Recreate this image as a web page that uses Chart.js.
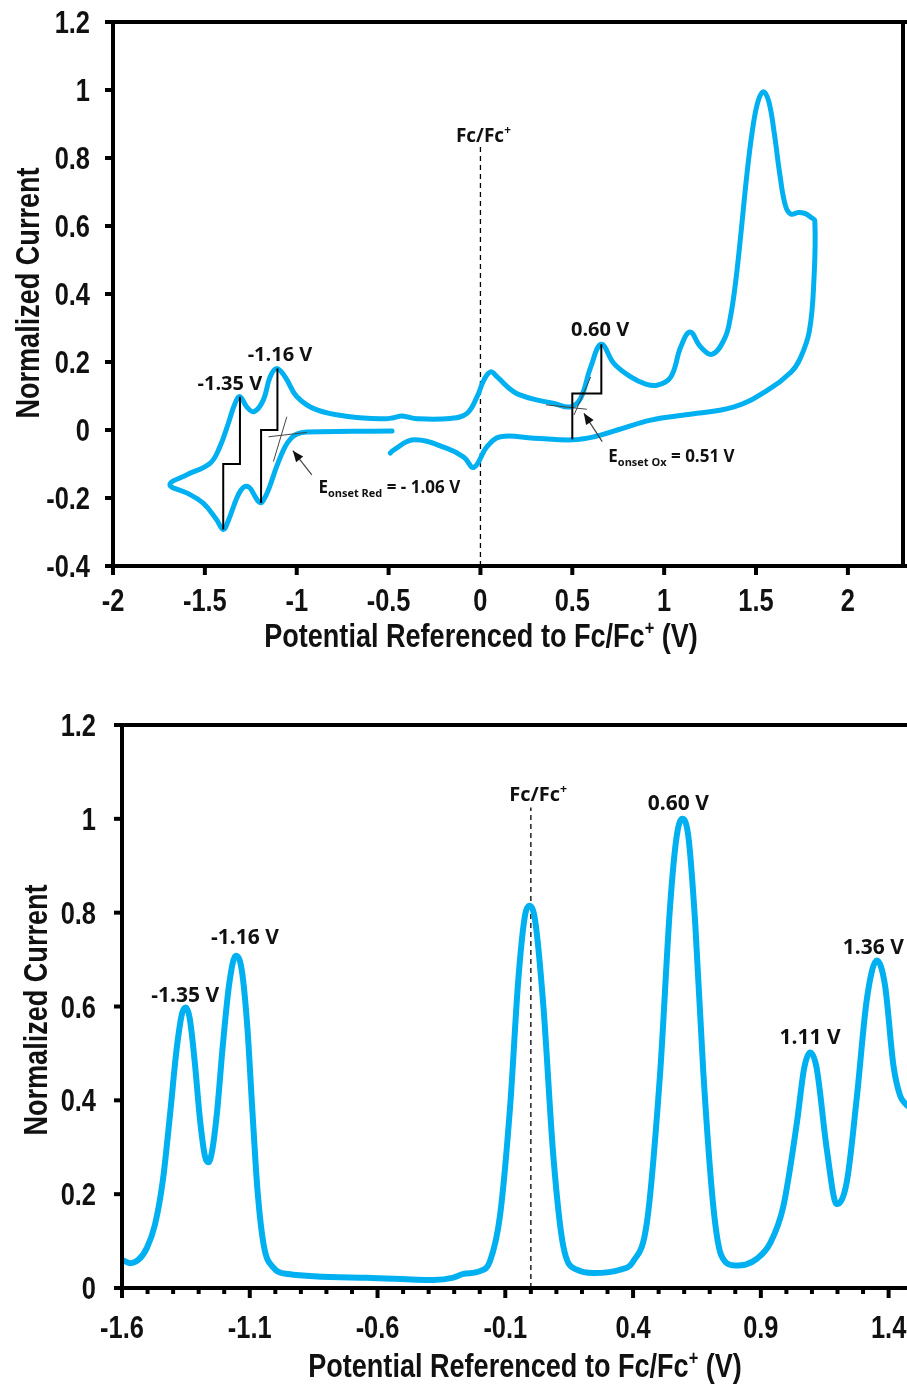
<!DOCTYPE html>
<html>
<head>
<meta charset="utf-8">
<script src="https://cdn.jsdelivr.net/npm/chart.js@4.4.1/dist/chart.umd.min.js"></script>
<style>
  html, body { margin: 0; padding: 0; background: #fff; overflow: hidden; }
  #box1 { position: absolute; left: 0; top: 0; width: 907px; height: 660px; }
  #box2 { position: absolute; left: 0; top: 690px; width: 907px; height: 694px; }
</style>
</head>
<body>
<div id="box1"><canvas id="cvChart"></canvas></div>
<div id="box2"><canvas id="dpvChart"></canvas></div>
<script>
// ---- cyclic voltammogram (top) ----
var cvPotential = [
  -0.481, -0.70, -0.945, -1.0, -1.03, -1.063, -1.109, -1.154, -1.19, -1.207,
  -1.23, -1.256, -1.281, -1.305, -1.33, -1.372, -1.40, -1.436, -1.509, -1.599,
  -1.69, -1.599, -1.472, -1.418, -1.372, -1.336, -1.309, -1.272, -1.232, -1.182,
  -1.145, -1.109, -1.063, -0.999, -0.89, -0.709, -0.52, -0.473, -0.427, -0.345,
  -0.164, -0.073, -0.018, 0.018, 0.055, 0.091, 0.182, 0.273, 0.4, 0.491,
  0.545, 0.6, 0.658, 0.727, 0.818, 0.90, 0.963, 1.036, 1.09, 1.141,
  1.199, 1.263, 1.33, 1.36, 1.39, 1.42, 1.45, 1.48, 1.51, 1.54,
  1.57, 1.60, 1.63, 1.66, 1.69, 1.73, 1.765, 1.80, 1.82, 1.815,
  1.79, 1.74, 1.69, 1.563, 1.381, 1.109, 0.927, 0.745, 0.618, 0.5,
  0.291, 0.109, 0.036, -0.036, -0.09, -0.182, -0.364, -0.473, -0.491
];
var cvCurrent = [
  -0.003, -0.004, -0.006, -0.012, -0.024, -0.049, -0.107, -0.176, -0.213, -0.211,
  -0.192, -0.170, -0.166, -0.178, -0.205, -0.266, -0.293, -0.264, -0.215, -0.185,
  -0.161, -0.132, -0.098, -0.049, 0.02, 0.078, 0.098, 0.068, 0.054, 0.088,
  0.156, 0.181, 0.156, 0.098, 0.059, 0.039, 0.033, 0.036, 0.041, 0.033,
  0.034, 0.049, 0.098, 0.146, 0.171, 0.156, 0.112, 0.093, 0.078, 0.068,
  0.093, 0.185, 0.252, 0.195, 0.156, 0.135, 0.132, 0.156, 0.244, 0.288,
  0.244, 0.223, 0.27, 0.33, 0.44, 0.59, 0.75, 0.88, 0.965, 0.995,
  0.965, 0.87, 0.75, 0.66, 0.635, 0.64, 0.637, 0.625, 0.615, 0.44,
  0.29, 0.21, 0.17, 0.117, 0.068, 0.044, 0.029, 0.0, -0.02, -0.029,
  -0.024, -0.02, -0.049, -0.11, -0.08, -0.054, -0.029, -0.059, -0.068
];
var cvTickX = [-2, -1.5, -1, -0.5, 0, 0.5, 1, 1.5, 2];
var cvTickY = [-0.4, -0.2, 0, 0.2, 0.4, 0.6, 0.8, 1, 1.2];

// onset construction lines
var stepRed1X = [-1.309, -1.309, -1.40, -1.40];
var stepRed1Y = [0.098, -0.10, -0.10, -0.293];
var stepRed2X = [-1.105, -1.105, -1.194, -1.194];
var stepRed2Y = [0.181, 0.0, 0.0, -0.215];
var stepOxX = [0.658, 0.658, 0.5, 0.5];
var stepOxY = [0.252, 0.107, 0.107, -0.027];
var tanRedAX = [-1.154, -0.945], tanRedAY = [-0.02, -0.007];
var tanRedBX = [-1.127, -1.054], tanRedBY = [-0.093, 0.039];
var tanOxAX = [0.357, 0.579], tanOxAY = [0.074, 0.061];
var tanOxBX = [0.509, 0.6], tanOxBY = [0.044, 0.156];
var arrowRedX = [-0.918, -1.021], arrowRedY = [-0.132, -0.061];
var arrowOxX = [0.663, 0.563], arrowOxY = [-0.034, 0.049];
var cvFcX = [0, 0], cvFcY = [-0.4, 0.838];

var cvPeakText = ['-1.35 V', '-1.16 V', '0.60 V'];
var cvPeakX = [-1.364, -1.091, 0.651];
var cvPeakY = [0.138, 0.223, 0.299];

// ---- differential pulse voltammogram (bottom) ----
var dpvPotential = [
  -1.597, -1.569, -1.536, -1.503, -1.471, -1.44, -1.412, -1.386, -1.365, -1.35,
  -1.335, -1.315, -1.295, -1.275, -1.262, -1.248, -1.229, -1.205, -1.18, -1.155,
  -1.132, -1.11, -1.09, -1.07, -1.045, -1.01, -0.95, -0.642, -0.382, -0.303,
  -0.264, -0.199, -0.16, -0.121, -0.081, -0.049, -0.023, -0.006, 0.016, 0.049,
  0.088, 0.127, 0.18, 0.245, 0.349, 0.401, 0.454, 0.506, 0.545, 0.571,
  0.593, 0.616, 0.643, 0.675, 0.714, 0.745, 0.80, 0.84, 0.884, 0.936,
  0.988, 1.041, 1.07, 1.093, 1.118, 1.158, 1.197, 1.236, 1.275, 1.315,
  1.354, 1.386, 1.419, 1.445, 1.472
];
var dpvCurrent = [
  0.059, 0.053, 0.06, 0.085, 0.135, 0.23, 0.37, 0.51, 0.585, 0.598,
  0.575, 0.48, 0.36, 0.28, 0.268, 0.29, 0.37, 0.52, 0.65, 0.708,
  0.68, 0.56, 0.38, 0.21, 0.09, 0.045, 0.03, 0.022, 0.017, 0.022,
  0.03, 0.036, 0.057, 0.153, 0.388, 0.658, 0.794, 0.815, 0.786, 0.601,
  0.281, 0.089, 0.039, 0.032, 0.039, 0.057, 0.139, 0.459, 0.815, 0.964,
  1.0, 0.964, 0.779, 0.459, 0.174, 0.07, 0.048, 0.05, 0.062, 0.095,
  0.174, 0.352, 0.47, 0.502, 0.47, 0.296, 0.179, 0.225, 0.403, 0.616,
  0.698, 0.645, 0.474, 0.41, 0.389
];
var dpvTickX = [-1.6, -1.1, -0.6, -0.1, 0.4, 0.9, 1.4];
var dpvTickY = [0, 0.2, 0.4, 0.6, 0.8, 1, 1.2];
var dpvFcX = [0, 0], dpvFcY = [0, 1.024];

var dpvPeakText = ['-1.35 V', '-1.16 V', '0.60 V', '1.11 V', '1.36 V'];
var dpvPeakX = [-1.353, -1.119, 0.577, 1.093, 1.34];
var dpvPeakY = [0.625, 0.749, 1.036, 0.536, 0.727];

var BLUE = 'rgb(0,176,240)';
var AXIS_FONT = '"Liberation Sans", Arial, sans-serif';
var NOTE_FONT = '"Open Sans", sans-serif';

function toPoints(xs, ys) {
  return xs.map(function(x, i) { return {x: x, y: ys[i]}; });
}

function lineSet(xs, ys, color, width, extra) {
  var d = {
    data: toPoints(xs, ys),
    showLine: true,
    pointRadius: 0,
    borderColor: color,
    borderWidth: width,
    fill: false,
    tension: 0
  };
  return Object.assign(d, extra || {});
}

// text made of pieces (for sub/superscripts); squeeze narrows the glyphs
function drawParts(ctx, parts, x, y, align, family, squeeze, rot) {
  ctx.save();
  ctx.translate(x, y);
  if (rot) ctx.rotate(rot);
  if (squeeze) ctx.scale(squeeze, 1);
  ctx.fillStyle = '#111';
  ctx.textBaseline = 'alphabetic';
  ctx.textAlign = 'left';
  var w = 0;
  parts.forEach(function(p) {
    ctx.font = 'bold ' + p[1] + 'px ' + family;
    w += ctx.measureText(p[0]).width;
  });
  var cx = align === 'center' ? -w / 2 : (align === 'right' ? -w : 0);
  parts.forEach(function(p) {
    ctx.font = 'bold ' + p[1] + 'px ' + family;
    ctx.fillText(p[0], cx, p[2] || 0);
    cx += ctx.measureText(p[0]).width;
  });
  ctx.restore();
}

function fmt(v) { return String(+v.toFixed(2)); }

var axisDeco = {
  id: 'axisDeco',
  afterDatasetsDraw: function(chart, args, o) {
    var ctx = chart.ctx, a = chart.chartArea;
    var xs = chart.scales.x, ys = chart.scales.y;
    ctx.save();
    ctx.strokeStyle = '#000';
    ctx.lineWidth = o.lw;
    ctx.lineCap = 'square';
    ctx.beginPath();
    ctx.moveTo(a.left, a.bottom); ctx.lineTo(a.left, a.top);
    ctx.moveTo(a.left, a.bottom); ctx.lineTo(a.right + 4, a.bottom);
    ctx.moveTo(a.left, a.top); ctx.lineTo(a.right + 4, a.top);
    if (o.right) { ctx.moveTo(a.right, a.top); ctx.lineTo(a.right, a.bottom); }
    ctx.stroke();
    ctx.lineCap = 'butt';
    xs.ticks.forEach(function(t) {
      var px = xs.getPixelForValue(t.value);
      var len = t.major ? o.majorLen : o.minorLen;
      ctx.beginPath(); ctx.moveTo(px, a.bottom); ctx.lineTo(px, a.bottom + len); ctx.stroke();
      if (t.major) drawParts(ctx, [[fmt(t.value), o.tickSize, 0]], px, o.xLabelBase, 'center', AXIS_FONT, 0.82);
    });
    ys.ticks.forEach(function(t) {
      var py = ys.getPixelForValue(t.value);
      ctx.beginPath(); ctx.moveTo(a.left, py); ctx.lineTo(a.left - o.yLen, py); ctx.stroke();
      drawParts(ctx, [[fmt(t.value), o.tickSize, 0]], o.yLabelRight, py + o.tickSize * 0.358, 'right', AXIS_FONT, 0.82);
    });
    drawParts(ctx, [['Potential Referenced to Fc/Fc', 33, 0], ['+', 20, -12], [' (V)', 33, 0]],
      o.xTitle[0], o.xTitle[1], 'center', AXIS_FONT, 0.82);
    drawParts(ctx, [['Normalized Current', 33, 0]], o.yTitle[0], o.yTitle[1], 'center', AXIS_FONT, 0.82, -Math.PI / 2);
    ctx.restore();
  }
};

function arrowHead(ctx, x0, y0, x1, y1) {
  var ang = Math.atan2(y1 - y0, x1 - x0);
  ctx.beginPath();
  ctx.moveTo(x1, y1);
  ctx.lineTo(x1 - 11 * Math.cos(ang) + 4.5 * Math.sin(ang), y1 - 11 * Math.sin(ang) - 4.5 * Math.cos(ang));
  ctx.lineTo(x1 - 11 * Math.cos(ang) - 4.5 * Math.sin(ang), y1 - 11 * Math.sin(ang) + 4.5 * Math.cos(ang));
  ctx.closePath();
  ctx.fill();
}

var notes = {
  id: 'notes',
  afterDatasetsDraw: function(chart, args, o) {
    var ctx = chart.ctx, xs = chart.scales.x, ys = chart.scales.y;
    function px(v) { return xs.getPixelForValue(v); }
    function py(v) { return ys.getPixelForValue(v); }
    ctx.save();
    o.peakText.forEach(function(t, i) {
      drawParts(ctx, [[t, o.peakSize, 0]], px(o.peakX[i]), py(o.peakY[i]) + o.peakSize * 0.36, 'center', NOTE_FONT);
    });
    drawParts(ctx, [['Fc/Fc', o.fcSize, 0], ['+', o.fcSize * 0.62, -o.fcSize * 0.4]],
      px(o.fcLabel[0]), py(o.fcLabel[1]) + o.fcSize * 0.36, 'center', NOTE_FONT);
    ctx.fillStyle = '#111';
    (o.arrows || []).forEach(function(ar) {
      arrowHead(ctx, px(ar[0][0]), py(ar[1][0]), px(ar[0][1]), py(ar[1][1]));
    });
    (o.onset || []).forEach(function(on) {
      drawParts(ctx, [['E', 17, 0], [on[0], 11, 4], [on[1], 17, 0]], px(on[2]), py(on[3]), 'left', NOTE_FONT);
    });
    ctx.restore();
  }
};

var cvCtx = document.getElementById('cvChart').getContext('2d');
var cvChart = new Chart(cvCtx, {
  type: 'scatter',
  data: {
    datasets: [
      lineSet(stepRed1X, stepRed1Y, '#000', 2),
      lineSet(stepRed2X, stepRed2Y, '#000', 2),
      lineSet(stepOxX, stepOxY, '#000', 2),
      lineSet(tanRedAX, tanRedAY, '#444', 1),
      lineSet(tanRedBX, tanRedBY, '#444', 1),
      lineSet(tanOxAX, tanOxAY, '#444', 1),
      lineSet(tanOxBX, tanOxBY, '#444', 1),
      lineSet(arrowRedX, arrowRedY, '#444', 1.2),
      lineSet(arrowOxX, arrowOxY, '#444', 1.2),
      lineSet(cvPotential, cvCurrent, BLUE, 5, {tension: 0.4, borderCapStyle: 'round', borderJoinStyle: 'round'}),
      lineSet(cvFcX, cvFcY, '#000', 1.3, {borderDash: [5, 4]})
    ]
  },
  options: {
    responsive: true,
    maintainAspectRatio: false,
    animation: false,
    layout: { padding: { top: 22, right: 4, left: 0, bottom: 0 } },
    plugins: {
      legend: { display: false },
      tooltip: { enabled: false },
      axisDeco: { lw: 4, right: true, majorLen: 9, minorLen: 5, yLen: 8, tickSize: 31,
        xLabelBase: 611, yLabelRight: 90, xTitle: [481, 647], yTitle: [39, 293] },
      notes: {
        peakText: cvPeakText, peakX: cvPeakX, peakY: cvPeakY, peakSize: 20,
        fcLabel: [0.016, 0.868], fcSize: 19,
        arrows: [[arrowRedX, arrowRedY], [arrowOxX, arrowOxY]],
        onset: [['onset Red', ' = - 1.06 V', -0.882, -0.186], ['onset Ox', ' = 0.51 V', 0.696, -0.093]]
      }
    },
    scales: {
      x: {
        type: 'linear', min: -2, max: 2.3,
        grid: { display: false }, border: { display: false }, ticks: { display: false },
        afterBuildTicks: function(s) { s.ticks = cvTickX.map(function(v) { return {value: v, major: true}; }); },
        afterFit: function(s) { s.height = 94; }
      },
      y: {
        type: 'linear', min: -0.4, max: 1.2,
        grid: { display: false }, border: { display: false }, ticks: { display: false },
        afterBuildTicks: function(s) { s.ticks = cvTickY.map(function(v) { return {value: v, major: true}; }); },
        afterFit: function(s) { s.width = 113; }
      }
    }
  },
  plugins: [axisDeco, notes]
});

var dpvCtx = document.getElementById('dpvChart').getContext('2d');
var dpvChart = new Chart(dpvCtx, {
  type: 'scatter',
  data: {
    datasets: [
      lineSet(dpvPotential, dpvCurrent, BLUE, 6, {cubicInterpolationMode: 'monotone', borderCapStyle: 'round', borderJoinStyle: 'round'}),
      lineSet(dpvFcX, dpvFcY, '#000', 1.3, {borderDash: [5, 4]})
    ]
  },
  options: {
    responsive: true,
    maintainAspectRatio: false,
    animation: false,
    layout: { padding: { top: 35, right: 0, left: 0, bottom: 0 } },
    plugins: {
      legend: { display: false },
      tooltip: { enabled: false },
      axisDeco: { lw: 4, right: false, majorLen: 10, minorLen: 6, yLen: 8, tickSize: 31,
        xLabelBase: 648, yLabelRight: 96, xTitle: [525, 687], yTitle: [47, 320] },
      notes: {
        peakText: dpvPeakText, peakX: dpvPeakX, peakY: dpvPeakY, peakSize: 21,
        fcLabel: [0.029, 1.054], fcSize: 20
      }
    },
    scales: {
      x: {
        type: 'linear', min: -1.6, max: 1.472,
        grid: { display: false }, border: { display: false }, ticks: { display: false },
        afterBuildTicks: function(s) {
          var t = [];
          dpvTickX.forEach(function(v, i) {
            t.push({value: v, major: true});
            if (i < dpvTickX.length - 1) {
              for (var k = 1; k < 5; k++) t.push({value: v + k * (dpvTickX[i + 1] - v) / 5, major: false});
            }
          });
          s.ticks = t;
        },
        afterFit: function(s) { s.height = 96; }
      },
      y: {
        type: 'linear', min: 0, max: 1.2,
        grid: { display: false }, border: { display: false }, ticks: { display: false },
        afterBuildTicks: function(s) { s.ticks = dpvTickY.map(function(v) { return {value: v, major: true}; }); },
        afterFit: function(s) { s.width = 122; }
      }
    }
  },
  plugins: [axisDeco, notes]
});
</script>
</body>
</html>
